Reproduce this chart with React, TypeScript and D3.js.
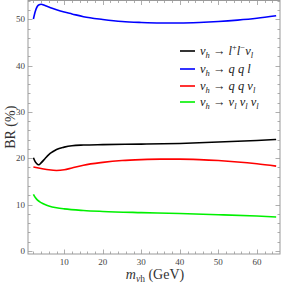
import React, { useRef, useEffect } from 'react';
import * as d3 from 'd3';

// masses (GeV) where the curves were sampled
const massLL = [2, 2.5, 3, 3.5, 4, 5, 6, 7, 8, 10, 12, 15, 20, 30, 40, 50, 60, 65];
const brLL = [20.1, 19.2, 18.75, 18.6, 19.0, 19.9, 20.8, 21.4, 21.9, 22.4, 22.7, 22.85, 22.95, 23.05, 23.2, 23.5, 23.85, 24.05];

const massQQL = [2, 2.5, 3, 3.5, 4, 5, 6, 8, 10, 12, 15, 20, 25, 30, 35, 40, 45, 50, 55, 60, 65];
const brQQL = [50.1, 51.8, 52.8, 53.2, 53.3, 53.0, 52.7, 52.1, 51.6, 51.2, 50.6, 50.0, 49.55, 49.35, 49.25, 49.25, 49.35, 49.55, 49.85, 50.25, 50.8];

const massQQN = [2, 4, 6, 8, 10, 12, 15, 20, 25, 30, 35, 40, 45, 50, 55, 60, 65];
const brQQN = [18.1, 17.8, 17.5, 17.35, 17.5, 17.9, 18.5, 19.1, 19.5, 19.7, 19.8, 19.8, 19.7, 19.5, 19.2, 18.8, 18.3];

const massNNN = [2, 2.5, 3, 4, 5, 6, 8, 10, 15, 20, 30, 40, 50, 60, 65];
const brNNN = [12.2, 11.5, 11.0, 10.4, 10.0, 9.7, 9.3, 9.05, 8.7, 8.5, 8.25, 8.05, 7.8, 7.5, 7.3];

const xTicks = [10, 20, 30, 40, 50, 60];
const yTicks = [0, 10, 20, 30, 40, 50];

const series = [
  { name: 'll', color: '#000000', x: massLL, y: brLL },
  { name: 'qql', color: '#0000ff', x: massQQL, y: brQQL },
  { name: 'qqn', color: '#ff0000', x: massQQN, y: brQQN },
  { name: 'nnn', color: '#00f000', x: massNNN, y: brNNN },
];

function App() {
  const svgRef = useRef(null);

  useEffect(() => {
    const svg = d3.select(svgRef.current);
    svg.selectAll('*').remove();

    const left = 28, right = 280, top = 0.5, bottom = 254;
    const x = d3.scaleLinear().domain([0.6, 66]).range([left, right]);
    const y = d3.scaleLinear().domain([-0.7, 54.1]).range([bottom, top]);

    const frameColor = '#999999';
    const tickFont = '"Liberation Serif", serif';

    svg.append('rect')
      .attr('x', left).attr('y', top)
      .attr('width', right - left).attr('height', bottom - top)
      .attr('fill', 'none').attr('stroke', frameColor).attr('stroke-width', 1);

    const xMinor = d3.range(2, 66, 2);
    const yMinor = d3.range(0, 54.1, 2);

    const tk = svg.append('g').attr('stroke', frameColor).attr('stroke-width', 0.8);
    xMinor.forEach((v) => {
      const len = v % 10 === 0 ? 4.5 : 2.5;
      const px = Math.round(x(v)) + 0.5;
      tk.append('line').attr('x1', px).attr('x2', px).attr('y1', bottom).attr('y2', bottom - len);
      tk.append('line').attr('x1', px).attr('x2', px).attr('y1', top).attr('y2', top + len);
    });
    yMinor.forEach((v) => {
      const len = v % 10 === 0 ? 4.5 : 2.5;
      const py = Math.round(y(v)) + 0.5;
      tk.append('line').attr('x1', left).attr('x2', left + len).attr('y1', py).attr('y2', py);
      tk.append('line').attr('x1', right).attr('x2', right - len).attr('y1', py).attr('y2', py);
    });

    svg.append('g').selectAll('text').data(xTicks).join('text')
      .attr('x', (d) => x(d)).attr('y', bottom + 11)
      .attr('text-anchor', 'middle')
      .attr('font-family', tickFont).attr('font-size', 9).attr('fill', '#444')
      .text((d) => d);

    svg.append('g').selectAll('text').data(yTicks).join('text')
      .attr('x', left - 3).attr('y', (d) => y(d) + 3)
      .attr('text-anchor', 'end')
      .attr('font-family', tickFont).attr('font-size', 9).attr('fill', '#444')
      .text((d) => d);

    const line = d3.line<[number, number]>()
      .x((d) => x(d[0]))
      .y((d) => y(d[1]))
      .curve(d3.curveMonotoneX);

    svg.append('g').selectAll('path').data(series).join('path')
      .attr('d', (s) => line(s.x.map((v, i) => [v, s.y[i]] as [number, number])))
      .attr('fill', 'none')
      .attr('stroke', (s) => s.color)
      .attr('stroke-width', 1.6);

    // legend
    const lg = svg.append('g').attr('font-family', tickFont).attr('font-size', 12.5).attr('fill', '#222');
    const rows = [51, 69, 86, 102];
    rows.forEach((ry, i) => {
      lg.append('line').attr('x1', 180).attr('x2', 195).attr('y1', ry).attr('y2', ry)
        .attr('stroke', series[i].color).attr('stroke-width', 1.6);
    });
    const labels = [
      [['ν', 'i', ''], ['h', 'i', 'sub'], [' → ', 'n', ''], ['l', 'i', ''], ['+', 'n', 'sup'], ['l', 'i', ''], ['−', 'n', 'sup'], ['ν', 'i', ''], ['l', 'i', 'sub']],
      [['ν', 'i', ''], ['h', 'i', 'sub'], [' → ', 'n', ''], ['q q l', 'i', '']],
      [['ν', 'i', ''], ['h', 'i', 'sub'], [' → ', 'n', ''], ['q q ν', 'i', ''], ['l', 'i', 'sub']],
      [['ν', 'i', ''], ['h', 'i', 'sub'], [' → ', 'n', ''], ['ν', 'i', ''], ['l', 'i', 'sub'], [' ν', 'i', ''], ['l', 'i', 'sub'], [' ν', 'i', ''], ['l', 'i', 'sub']],
    ];
    labels.forEach((parts, i) => {
      const t = lg.append('text').attr('x', 200).attr('y', rows[i] + 4);
      let shift = 0;
      parts.forEach(([txt, st, pos]) => {
        const dy = pos === 'sub' ? 3 : pos === 'sup' ? -5 : 0;
        t.append('tspan')
          .attr('dy', dy - shift)
          .attr('font-style', st === 'i' ? 'italic' : 'normal')
          .attr('font-size', pos ? 8.5 : 12.5)
          .text(txt);
        shift = dy;
      });
    });

    // axis labels
    svg.append('text')
      .attr('transform', `translate(15, ${(top + bottom) / 2}) rotate(-90)`)
      .attr('text-anchor', 'middle')
      .attr('font-family', tickFont).attr('font-size', 14).attr('fill', '#333')
      .text('BR (%)');

    const xl = svg.append('text')
      .attr('x', 155).attr('y', 279)
      .attr('text-anchor', 'middle')
      .attr('font-family', tickFont).attr('font-size', 14).attr('fill', '#333');
    xl.append('tspan').attr('font-style', 'italic').text('m');
    xl.append('tspan').attr('font-size', 9.5).attr('dy', 3).attr('font-style', 'italic').text('ν');
    xl.append('tspan').attr('font-size', 9.5).text('h');
    xl.append('tspan').attr('dy', -3).text(' (GeV)');
  }, []);

  return (
    <svg
      ref={svgRef}
      width={284}
      height={285}
      style={{ position: 'absolute', left: 0, top: 0, background: '#fff' }}
    ></svg>
  );
}

export default App;
